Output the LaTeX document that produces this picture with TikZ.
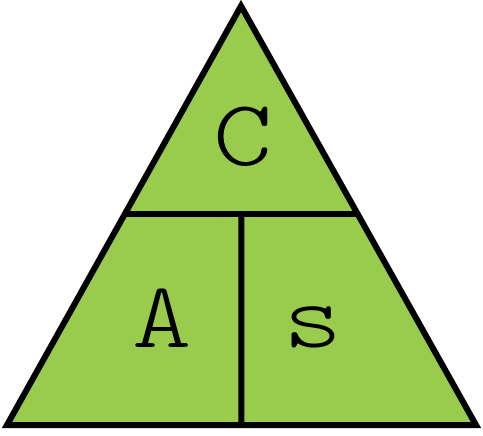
\documentclass[tikz,border=0pt]{standalone}
\usepackage{fontspec}
\usetikzlibrary{calc}
\newfontfamily\courierlike[FakeStretch=1.2]{Latin Modern Mono Light}
\definecolor{trifill}{RGB}{153,204,77}
\tikzset{
  edge/.style={line width=6pt, line join=miter, miter limit=10},
  letter/.style={font=\courierlike\fontsize{94}{94}\selectfont, inner sep=0pt, anchor=base}
}
\begin{document}
\begin{tikzpicture}[x=1pt,y=-1pt]
\useasboundingbox (0,0) rectangle (483,436);
\coordinate (top) at (241,6);
\coordinate (bl) at (7,425);
\coordinate (br) at (476,425);
\coordinate (hl) at ($(top)!0.4964!(bl)$);
\coordinate (hr) at ($(top)!0.4964!(br)$);
\coordinate (hm) at ($(hl)!0.5!(hr)$);
\coordinate (bm) at ($(bl)!0.5!(br)$);
\filldraw[edge, fill=trifill] (top) -- (br) -- (bl) -- cycle;
\draw[edge] (hl) -- (hr);
\draw[edge] (hm) -- (bm);
\node[letter] (c) at (243,166) {C};
\node[letter] (a) at (162,347) {A};
\node[letter] (s) at (313,347) {s};
\end{tikzpicture}
\end{document}
